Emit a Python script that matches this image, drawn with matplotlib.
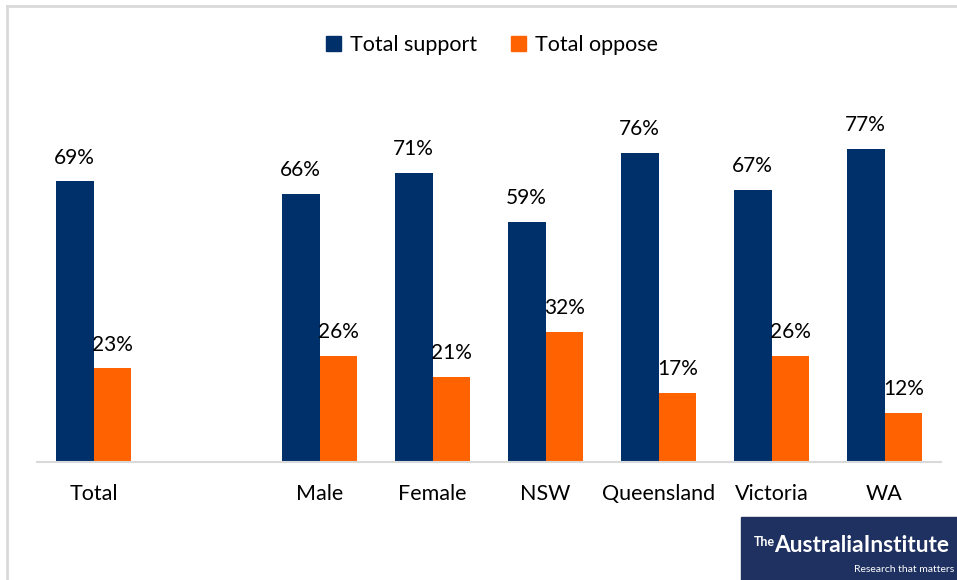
import numpy as np
import matplotlib.pyplot as plt
from matplotlib.patches import Rectangle
from matplotlib.lines import Line2D

plt.rcParams['font.family'] = ['Lato', 'DejaVu Sans']

categories = ["Total", "", "Male", "Female", "NSW", "Queensland", "Victoria", "WA"]
support = [69, None, 66, 71, 59, 76, 67, 77]
oppose = [23, None, 26, 21, 32, 17, 26, 12]

navy = "#003069"
orange = "#FF6200"

fig = plt.figure(figsize=(9.57, 5.8), dpi=100)
ax = fig.add_axes([37 / 957, 118 / 580, 904 / 957, 366 / 580])

x = np.arange(len(categories))
w = 0.336
for i in range(len(categories)):
    if support[i] is None:
        continue
    ax.bar(x[i] - w / 2, support[i], w, color=navy)
    ax.bar(x[i] + w / 2, oppose[i], w, color=orange)
    ax.annotate(f"{support[i]}%", (x[i] - w / 2, support[i]), xytext=(0, 10),
                textcoords="offset points", ha="center", va="bottom", fontsize=15)
    ax.annotate(f"{oppose[i]}%", (x[i] + w / 2, oppose[i]), xytext=(0, 10),
                textcoords="offset points", ha="center", va="bottom", fontsize=15)

ax.set_xlim(-0.5, len(categories) - 0.5)
ax.set_ylim(0, 90)
ax.set_xticks(x)
ax.set_xticklabels(categories, fontsize=15.5)
ax.tick_params(axis="x", length=0, pad=16)
ax.set_yticks([])
for s in ["top", "right", "left"]:
    ax.spines[s].set_visible(False)
ax.spines["bottom"].set_color("#D9D9D9")
ax.spines["bottom"].set_linewidth(1.5)

handles = [Rectangle((0, 0), 1, 1, color=navy), Rectangle((0, 0), 1, 1, color=orange)]
fig.legend(handles, ["Total support", "Total oppose"], loc="center", ncol=2,
           bbox_to_anchor=(492 / 957, 1 - 45 / 580), frameon=False, fontsize=15.5,
           handlelength=0.7, handleheight=0.7, handletextpad=0.4, columnspacing=1.6)

# outer frame (top and left edges visible)
fig.add_artist(Line2D([7 / 957, 7 / 957], [0, 1 - 6 / 580], color="#D9D9D9", lw=2))
fig.add_artist(Line2D([7 / 957, 1], [1 - 6 / 580, 1 - 6 / 580], color="#D9D9D9", lw=2))

# logo
fig.patches.append(Rectangle((741 / 957, 0), 216 / 957, 63 / 580, transform=fig.transFigure,
                             color="#1F3160", zorder=5))
fig.text(754 / 957, 1 - 542 / 580, "The", color="white", fontsize=9, va="center",
         fontweight="bold", zorder=6)
fig.text(774 / 957, 1 - 546 / 580, "AustraliaInstitute", color="white", fontsize=16.3,
         va="center", fontweight="bold", zorder=6)
fig.text(954 / 957, 1 - 569 / 580, "Research that matters", color="white", fontsize=7.5,
         va="center", ha="right", zorder=6)

fig.savefig("out.png", dpi=100)
